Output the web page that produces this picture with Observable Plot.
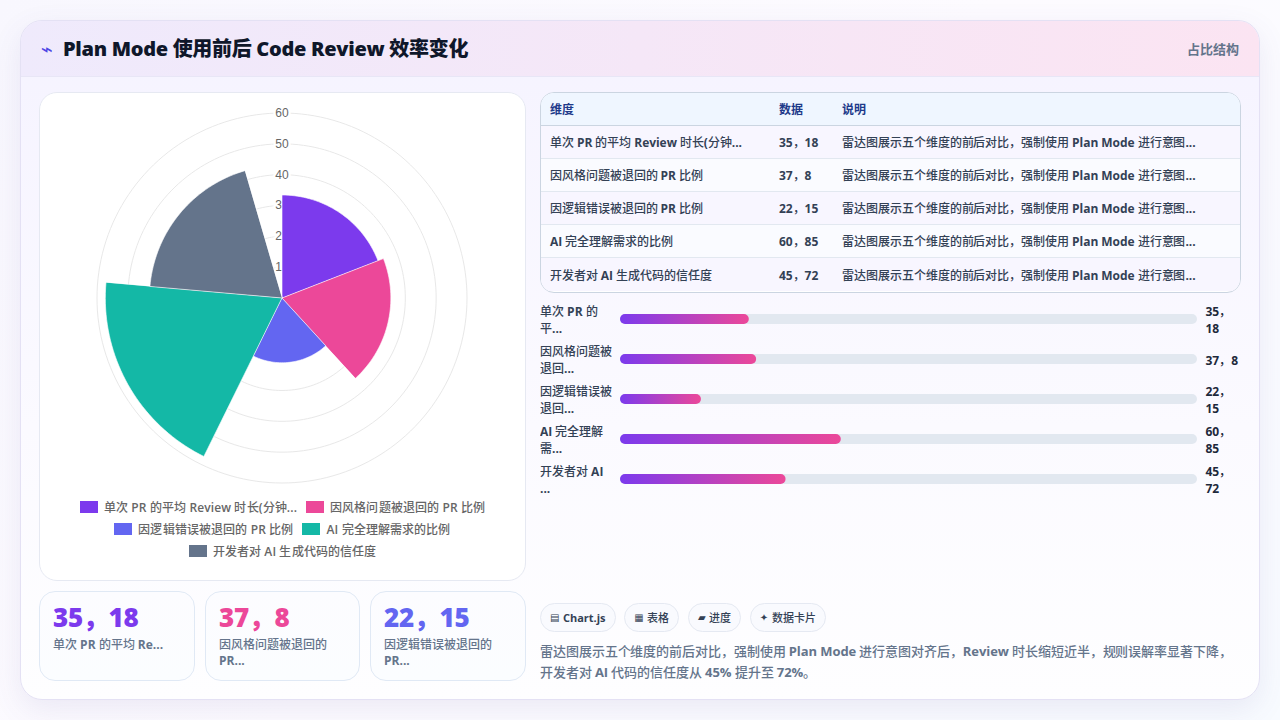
<!DOCTYPE html>
<html lang="zh">
<head>
<meta charset="utf-8">
<script src="https://cdn.jsdelivr.net/npm/d3@7"></script>
<script src="https://cdn.jsdelivr.net/npm/@observablehq/plot@0.6"></script>
<style>
@font-face{font-family:"CJKM";src:local("Noto Sans CJK SC Medium"),local("NotoSansCJKsc-Medium");font-weight:100 900}
*{box-sizing:border-box}
html,body{margin:0;padding:0;width:1280px;height:720px;overflow:hidden}
body{background:linear-gradient(135deg,#f8f7fe,#fdfbff 50%,#f8fbff);font-family:"Open Sans","CJKM","Noto Sans CJK SC",sans-serif;position:relative}
.card{position:absolute;left:20px;top:20px;width:1240px;height:680px;border-radius:22px;border:1px solid #e4e1f4;background:linear-gradient(180deg,#f5f3ff 0%,#fbfaff 60%,#fefeff 100%);box-shadow:0 10px 30px rgba(90,80,160,.10);overflow:hidden}
.head{position:absolute;left:0;top:0;width:100%;height:56px;background:linear-gradient(90deg,#efeafc,#fbe4f2);border-bottom:1px solid #e8e6f6}
.title{position:absolute;left:20px;top:0;line-height:56px;font-size:20px;font-weight:800;color:#0f172a;white-space:nowrap;font-family:"Open Sans","Noto Sans CJK SC",sans-serif}
.title #ttl{letter-spacing:-.3px}
.title .ic{color:#4f46e5;font-size:20px;display:inline-block;width:22px;font-weight:400;font-family:"DejaVu Sans"}
.tag{position:absolute;right:20px;top:0;line-height:56px;font-size:13px;font-weight:700;color:#64748b;font-family:"Open Sans","Noto Sans CJK SC",sans-serif}
.panel{position:absolute;left:18px;top:71px;width:487px;height:489px;background:#fff;border:1px solid #e6e9f2;border-radius:18px}
#polar{position:absolute;left:1px;top:10px}
.legend{position:absolute;left:0;right:0;top:403px;font-size:12px;font-weight:600;color:#666;letter-spacing:.12px}
.lrow{display:flex;justify-content:center;height:22px;align-items:center;gap:9px}
.lit{display:flex;align-items:center;gap:6px;white-space:nowrap}
.sw{width:18px;height:12px;display:inline-block}
.kpi{position:absolute;top:570px;height:90px;border:1px solid #e0e9f5;border-radius:16px;background:linear-gradient(180deg,#fcfcff,#fbfdff);padding:10px 13px}
.kpi .n{font-size:26px;letter-spacing:-.3px;font-weight:800;line-height:30px;white-space:nowrap;font-family:"Open Sans","Noto Sans CJK SC",sans-serif}
.kpi .l{font-size:12px;font-weight:700;color:#64748b;line-height:16px;margin-top:5px}
table{border-collapse:separate;border-spacing:0;width:100%;font-size:12px;table-layout:fixed}
.tw{position:absolute;left:519px;top:71px;width:701px;height:201px;border:1px solid #cbd5e1;border-radius:14px;overflow:hidden;background:#fff}
th{height:33px;background:#eff6ff;color:#1e3a8a;text-align:left;padding:0 0 0 9px;font-weight:700;border-bottom:1px solid #cbd5e1;font-family:"Open Sans","Noto Sans CJK SC",sans-serif}
td{height:33px;color:#334155;padding:0 0 0 9px;font-weight:700;letter-spacing:-.05px;border-bottom:1px solid #e2e8f0;white-space:nowrap;overflow:hidden}
tr:last-child td{border-bottom:0}
tbody tr:nth-child(odd) td{background:#f8f6ff}
tbody tr:nth-child(even) td{background:#fafbff}
#bars{position:absolute;left:519px;top:278px}
.chips{position:absolute;left:519px;top:582px;display:flex;gap:8.7px}
.chip{height:29px;line-height:27px;padding:0 9px;border:1px solid #e5e9f2;border-radius:15px;font-size:11px;font-weight:700;color:#334155;background:#f9fafe;white-space:nowrap;display:flex;align-items:center}
.chip i{font-style:normal;font-family:"DejaVu Sans";font-weight:700;font-size:10px;margin-right:3.5px;line-height:27px}
.chip b{font-weight:700}
.desc{position:absolute;left:519px;top:620px;width:705px;font-size:13px;line-height:21px;font-weight:700;color:#64748b;letter-spacing:-.08px}
</style>
</head>
<body>
<div class="card">
  <div class="head"><div class="title"><span class="ic">⌁</span><span id="ttl"></span></div><div class="tag" id="tag"></div></div>
  <div class="panel"><div id="polar"></div><div class="legend" id="legend"></div></div>
  <div id="kpis"></div>
  <div class="tw"><table id="tbl"></table></div>
  <div id="bars"></div>
  <div class="chips" id="chips"></div>
  <div class="desc" id="desc"></div>
</div>
<script>
const chartTitle = "Plan Mode 使用前后 Code Review 效率变化";
const chartTag = "占比结构";
const categories = ["单次 PR 的平均 Review 时长(分钟...","因风格问题被退回的 PR 比例","因逻辑错误被退回的 PR 比例","AI 完全理解需求的比例","开发者对 AI 生成代码的信任度"];
const colors = ["#7c3aed","#ec4899","#6366f1","#14b8a6","#64748b"];
const dataText = ["35，18","37，8","22，15","60，85","45，72"];
const firstValues = [35,37,22,60,45];
// radii as they appear in the picture
const drawnValues = [33.4,35.3,21,57.3,43];
const ringTicks = [10,20,30,40,50,60];
const barLabels = ["单次 PR 的\n平...","因风格问题被\n退回...","因逻辑错误被\n退回...","AI 完全理解\n需...","开发者对 AI\n..."];
const barValueLabels = ["35，\n18","37，8","22，\n15","60，\n85","45，\n72"];
const kpiNumbers = ["35，18","37，8","22，15"];
const kpiLabels = ["单次 PR 的平均 Re...","因风格问题被退回的<br>PR...","因逻辑错误被退回的<br>PR..."];
const kpiLeft = [18,184,349], kpiWidth=[156,155,156];
const rowNote = "雷达图展示五个维度的前后对比，强制使用 Plan Mode 进行意图...";
const tableHeader = ["维度","数据","说明"];
const chipIcons = ["▤","▦","▰","✦"];
const chipTexts = ["Chart.js","表格","进度","数据卡片"];
const descLines = ["雷达图展示五个维度的前后对比，强制使用 Plan Mode 进行意图对齐后，Review 时长缩短近半，规则误解率显著下降，","开发者对 AI 代码的信任度从 45% 提升至 72%。"];
const sweepDeg = 68.75;
const FF = '"Open Sans","CJKM","Noto Sans CJK SC",sans-serif';

document.getElementById("ttl").textContent = chartTitle;
document.getElementById("tag").textContent = chartTag;

const toXY = (r,deg)=>{const a=deg*Math.PI/180;return {x:r*Math.sin(a),y:r*Math.cos(a)}};
const rings = ringTicks.flatMap(t=>d3.range(0,361,2).map(d=>({t,...toXY(t,d)})));
const wedges = categories.flatMap((c,i)=>{
  const s=i*sweepDeg, pts=[{cat:c,x:0,y:0}];
  for(let k=0;k<=40;k++) pts.push({cat:c,...toXY(drawnValues[i],s+sweepDeg*k/40)});
  return pts;
});
const W=480,H=392,CX=240.5,CY=194.5,RP=185;
document.getElementById("polar").append(Plot.plot({
  width:W,height:H,margin:0,
  style:{background:"transparent"},
  x:{domain:[-60,60],range:[CX-RP,CX+RP],axis:null},
  y:{domain:[-60,60],range:[CY+RP,CY-RP],axis:null},
  color:{domain:categories,range:colors},
  marks:[
    Plot.line(rings,{x:"x",y:"y",z:"t",stroke:"#e8e8e8",strokeWidth:1}),
    Plot.text(ringTicks,{x:()=>0,y:d=>d,text:d=>String(d),fontSize:12,fontFamily:'"Liberation Sans",Arial,sans-serif',fill:"#666",stroke:"white",strokeWidth:5}),
    Plot.line(wedges,{x:"x",y:"y",z:"cat",fill:"cat",stroke:"white",strokeWidth:0.6,curve:"linear-closed"})
  ]
}));

const lg=document.getElementById("legend");
[[0,1],[2,3],[4]].forEach(r=>{
  const row=document.createElement("div");row.className="lrow";
  r.forEach(i=>{const it=document.createElement("div");it.className="lit";
    it.innerHTML=`<span class="sw" style="background:${colors[i]}"></span><span>${categories[i]}</span>`;row.append(it)});
  lg.append(row);
});

kpiNumbers.forEach((n,i)=>{
  const d=document.createElement("div");d.className="kpi";d.style.left=kpiLeft[i]+"px";d.style.width=kpiWidth[i]+"px";
  d.innerHTML=`<div class="n" style="color:${colors[i]}">${n}</div><div class="l">${kpiLabels[i]}</div>`;
  document.getElementById("kpis").append(d);
});

const t=document.getElementById("tbl");
t.innerHTML=`<colgroup><col style="width:229px"><col style="width:63px"><col></colgroup><thead><tr>${tableHeader.map(h=>`<th>${h}</th>`).join("")}</tr></thead><tbody>`+
 categories.map((c,i)=>`<tr><td>${c}</td><td>${dataText[i]}</td><td>${rowNote}</td></tr>`).join("")+`</tbody>`;

const gradDefs=()=>{
  const s=d3.create("svg:g");
  const g=s.append("defs").append("linearGradient").attr("id","barGrad");
  g.append("stop").attr("offset","0%").attr("stop-color","#7c3aed");
  g.append("stop").attr("offset","100%").attr("stop-color","#ec4899");
  return s.node();
};
const barMax=156.8;
const barRows=categories.map((c,i)=>({c,v:firstValues[i],lab:barLabels[i],val:barValueLabels[i]}));
document.getElementById("bars").append(Plot.plot({
  width:701,height:200,
  marginLeft:80,marginRight:44,marginTop:0,marginBottom:0,
  style:{background:"transparent"},
  x:{domain:[0,barMax],axis:null},
  y:{domain:categories,range:[0,200],paddingInner:.75,paddingOuter:.375,axis:null},
  marks:[
    gradDefs,
    Plot.barX(barRows,{y:"c",x1:()=>0,x2:()=>barMax,fill:"#e2e8f0",rx:5}),
    Plot.barX(barRows,{y:"c",x1:()=>0,x2:"v",fill:"url(#barGrad)",rx:5}),
    Plot.text(barRows,{y:"c",x:()=>0,dx:-80.5,dy:0,text:"lab",textAnchor:"start",lineHeight:1.4,fontSize:12,fontWeight:700,fill:"#334155",fontFamily:FF}),
    Plot.text(barRows,{y:"c",x:()=>barMax,dx:8,dy:0,text:"val",textAnchor:"start",lineHeight:1.4,fontSize:12,fontWeight:700,fill:"#1e293b",fontFamily:FF})
  ]
}));

chipTexts.forEach((c,i)=>{const d=document.createElement("div");d.className="chip";d.innerHTML=`<i>${chipIcons[i]}</i><b>${c}</b>`;document.getElementById("chips").append(d)});
document.getElementById("desc").innerHTML=descLines.join("<br>");
</script>
</body>
</html>
